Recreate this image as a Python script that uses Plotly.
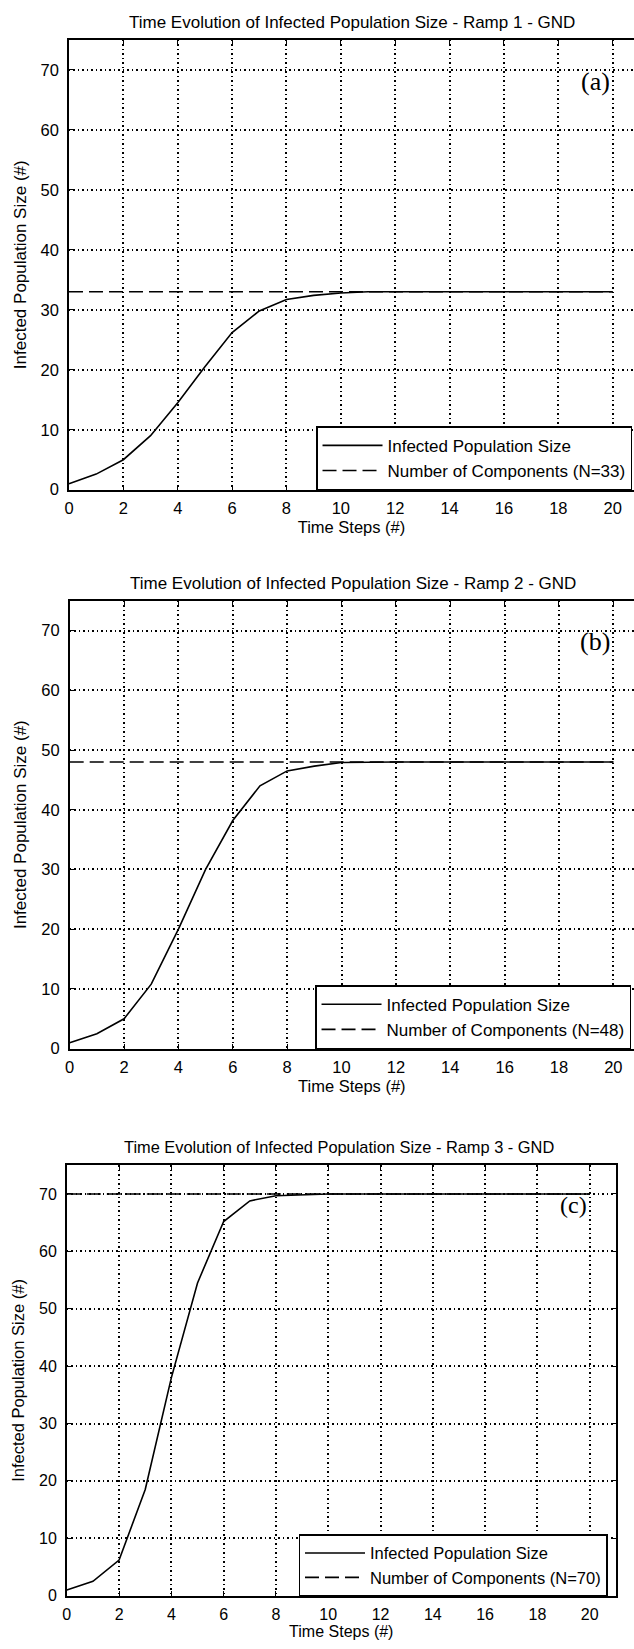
import plotly.graph_objects as go

# ---------------- data ----------------
steps = list(range(21))
infected_a = [1, 2.6, 5, 9, 14.5, 20.5, 26.2, 29.8, 31.7, 32.4, 32.8, 33, 33, 33, 33, 33, 33, 33, 33, 33, 33]
infected_b = [1, 2.5, 5, 10.8, 20, 30, 38.2, 44, 46.5, 47.3, 47.9, 48, 48, 48, 48, 48, 48, 48, 48, 48, 48]
infected_c = [1, 2.5, 6.2, 18.5, 38, 54.5, 65.2, 68.8, 69.7, 69.9, 70, 70, 70, 70, 70, 70, 70, 70, 70, 70, 70]
components = [33, 48, 70]
ramps = ["1", "2", "3"]
labels = ["(a)", "(b)", "(c)"]
x_ticks = list(range(0, 21, 2))
y_ticks = list(range(0, 71, 10))

W, H = 634, 1649
FONT = "Liberation Sans, Arial, Helvetica, sans-serif"
SERIF = "Liberation Serif, Times New Roman, serif"

# panel geometry (pixels)
panels = [
    dict(x0=64.5, x1=634, unit=27.4, top=40, bot=492.4, title_y=23, title_x=350,
         leg=(632, 493), fs=16.5, legfs=17, tfs=17, lfs=26, mirror_y=False, title_std=5),
    dict(x0=65.2, x1=634, unit=27.4, top=604, bot=1054.4, title_y=587, title_x=351,
         leg=(631, 1055), fs=16.5, legfs=17, tfs=17, lfs=26, mirror_y=False, title_std=5),
    dict(x0=62.3, x1=615.6, unit=26.35, top=1171.7, bot=1604.4, title_y=1153, title_x=337,
         leg=(607.3, 1605), fs=16, legfs=16.5, tfs=16.4, lfs=24, mirror_y="ticks", title_std=3),
]
series = [infected_a, infected_b, infected_c]

fig = go.Figure()
layout = dict(width=W, height=H, margin=dict(l=0, r=0, t=0, b=0), autosize=False,
              paper_bgcolor="white", plot_bgcolor="white", annotations=[], showlegend=True)

for i, p in enumerate(panels):
    sfx = "" if i == 0 else str(i + 1)
    xa, ya = "x" + sfx, "y" + sfx
    lg = "legend" + sfx
    xmax = (p["x1"] - p["x0"]) / p["unit"]
    fig.add_trace(go.Scatter(x=steps, y=series[i], mode="lines", name="Infected Population Size",
                             line=dict(color="black", width=1.6), xaxis=xa, yaxis=ya, legend=lg))
    fig.add_trace(go.Scatter(x=[steps[0], steps[-1]], y=[components[i], components[i]], mode="lines",
                             name=f"Number of Components (N={components[i]})",
                             line=dict(color="black", width=1.6, dash="14px,6px"),
                             xaxis=xa, yaxis=ya, legend=lg))
    common = dict(showline=True, linecolor="black", linewidth=1.6, ticks="inside", ticklen=5,
                  tickwidth=1.3, tickcolor="black", showgrid=True, gridcolor="black", gridwidth=1.5,
                  griddash="1.5px,3px", zeroline=False, tickfont=dict(family=FONT, size=p["fs"], color="black"))
    layout["xaxis" + sfx] = dict(common, domain=[p["x0"] / W, p["x1"] / W], range=[0, xmax],
                                 tickvals=x_ticks, mirror="ticks", anchor=ya, ticklabelstandoff=3,
                                 title=dict(text="Time Steps (#)", font=dict(family=FONT, size=p["fs"], color="black"),
                                            standoff=p["title_std"]))
    layout["yaxis" + sfx] = dict(common, domain=[1 - p["bot"] / H, 1 - p["top"] / H], range=[0, 75],
                                 tickvals=y_ticks, mirror=p["mirror_y"], anchor=xa, ticklabelstandoff=5,
                                 title=dict(text="Infected Population Size (#)",
                                            font=dict(family=FONT, size=p["fs"] + 0.5, color="black"), standoff=10))
    layout[lg] = dict(x=p["leg"][0] / W, xanchor="right", y=1 - p["leg"][1] / H, yanchor="bottom",
                      bordercolor="black", borderwidth=1.5, bgcolor="white", itemwidth=60,
                      font=dict(family=FONT, size=p["legfs"], color="black"), traceorder="normal")
    layout["annotations"].append(dict(text=f"Time Evolution of Infected Population Size - Ramp {ramps[i]} - GND",
                                      x=p["title_x"] / W, y=1 - p["title_y"] / H, xref="paper", yref="paper",
                                      xanchor="center", yanchor="middle", showarrow=False,
                                      font=dict(family=FONT, size=p["tfs"], color="black")))
    layout["annotations"].append(dict(text=labels[i], x=20, y=68.1, xref=xa, yref=ya,
                                      xanchor="right", yanchor="middle", showarrow=False, xshift=-1,
                                      font=dict(family=SERIF, size=p["lfs"], color="black")))

fig.update_layout(**layout)
fig.write_html("out.html")
